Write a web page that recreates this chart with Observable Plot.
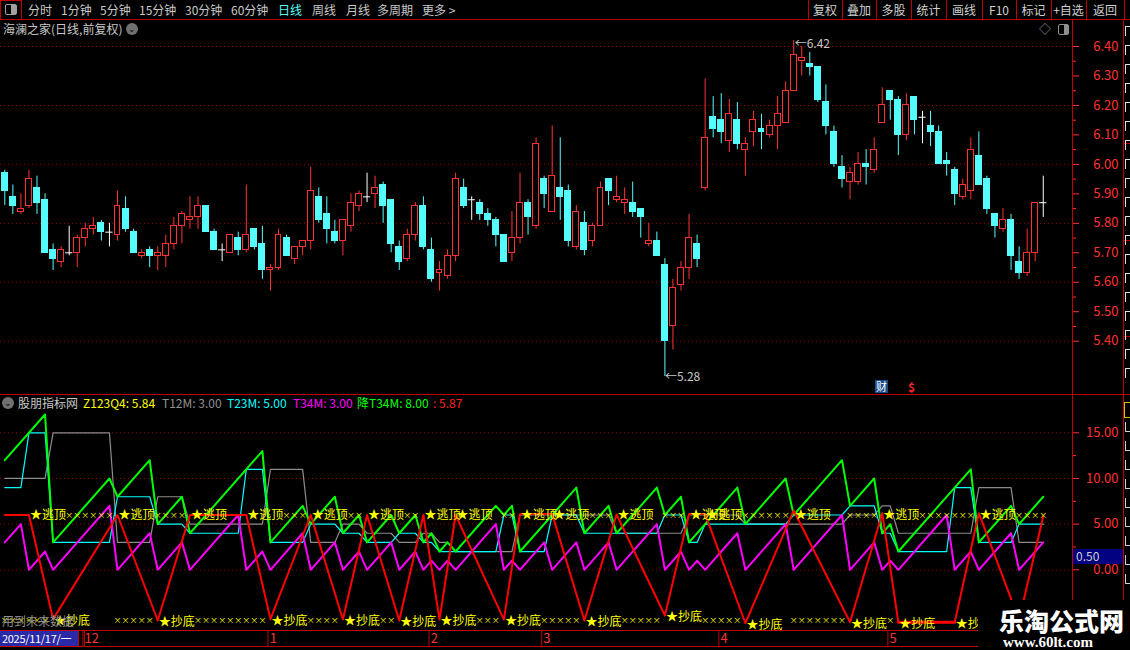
<!DOCTYPE html>
<html><head><meta charset="utf-8">
<script src="https://cdn.jsdelivr.net/npm/d3@7"></script>
<script src="https://cdn.jsdelivr.net/npm/@observablehq/plot@0.6"></script>
<style>
html,body{margin:0;padding:0;background:#000;}
#root{position:relative;width:1130px;height:650px;background:#000;overflow:hidden;font-family:"Noto Sans CJK SC","Noto Sans",sans-serif;color:#c8c8c8;}
.t{position:absolute;white-space:nowrap;font-size:12px;line-height:14px;}
.plot{position:absolute;left:0;}
</style></head><body><div id="root"></div>
<script>
// ---------- price data (daily candles, 2025/11/17 onward) ----------
const open  = [5.97,5.89,5.84,5.86,5.92,5.88,5.71,5.67,5.70,5.70,5.75,5.78,5.80,5.77,5.76,5.85,5.77,5.69,5.71,5.69,
               5.69,5.73,5.79,5.81,5.82,5.86,5.77,5.71,5.70,5.75,5.71,5.78,5.73,5.64,5.65,5.75,5.68,5.72,5.74,5.89,
               5.83,5.77,5.74,5.79,5.86,5.89,5.90,5.93,5.88,5.72,5.68,5.76,5.86,5.71,5.63,5.62,5.69,5.92,5.88,5.87,
               5.83,5.81,5.76,5.70,5.75,5.87,5.79,5.95,5.84,5.92,5.91,5.72,5.80,5.74,5.79,5.95,5.88,5.87,5.87,5.85,
               5.73,5.74,5.66,5.45,5.59,5.65,5.73,5.92,6.16,6.15,6.08,6.15,6.05,6.11,6.12,6.10,6.13,6.14,6.25,6.35,
               6.34,6.33,6.21,6.11,5.99,5.94,5.94,6.00,5.98,6.14,6.25,6.22,6.10,6.23,6.16,6.13,6.11,6.01,5.98,5.89,
               5.91,6.03,5.95,5.83,5.78,5.81,5.67,5.63,5.70,5.87];
const high  = [5.98,5.93,5.90,5.98,5.96,5.90,5.73,5.72,5.79,5.76,5.80,5.82,5.81,5.80,5.91,5.89,5.78,5.71,5.72,5.72,
               5.76,5.82,5.84,5.89,5.89,5.86,5.78,5.73,5.76,5.77,5.93,5.78,5.79,5.66,5.78,5.76,5.72,5.74,5.99,5.92,
               5.89,5.81,5.81,5.90,5.91,5.97,5.96,5.94,5.88,5.74,5.78,5.87,5.89,5.75,5.67,5.71,5.97,5.95,5.89,5.88,
               5.85,5.82,5.76,5.84,5.97,5.88,6.09,5.96,6.13,6.09,5.93,5.86,5.84,5.80,5.94,5.95,5.96,5.92,5.94,5.85,
               5.80,5.77,5.68,5.61,5.67,5.83,5.76,6.29,6.23,6.24,6.22,6.21,6.09,6.18,6.17,6.15,6.23,6.28,6.42,6.40,
               6.38,6.33,6.27,6.13,6.03,5.99,6.04,6.05,6.09,6.26,6.25,6.23,6.24,6.23,6.18,6.18,6.13,6.04,5.99,5.95,
               6.09,6.11,5.96,5.83,5.85,5.83,5.72,5.78,5.87,5.96];
const low   = [5.86,5.83,5.83,5.85,5.83,5.70,5.64,5.65,5.69,5.65,5.72,5.76,5.74,5.72,5.74,5.77,5.70,5.68,5.65,5.64,
               5.65,5.71,5.73,5.78,5.78,5.77,5.71,5.67,5.70,5.69,5.70,5.71,5.61,5.57,5.64,5.69,5.66,5.69,5.71,5.80,
               5.73,5.73,5.69,5.77,5.84,5.87,5.85,5.80,5.70,5.64,5.67,5.74,5.71,5.60,5.57,5.61,5.67,5.85,5.81,5.81,
               5.79,5.72,5.67,5.67,5.73,5.76,5.78,5.85,5.84,5.81,5.72,5.71,5.69,5.72,5.79,5.86,5.87,5.83,5.82,5.75,
               5.72,5.69,5.28,5.37,5.57,5.61,5.65,5.91,6.09,6.07,6.04,6.05,5.96,6.06,6.05,6.09,6.05,6.14,6.25,6.30,
               6.30,6.21,6.10,5.99,5.92,5.88,5.93,5.93,5.97,6.14,6.15,6.03,6.08,6.10,6.07,6.06,6.00,5.96,5.86,5.88,
               5.88,5.93,5.83,5.75,5.77,5.64,5.61,5.62,5.67,5.82];
const close = [5.91,5.86,5.85,5.95,5.87,5.70,5.68,5.71,5.70,5.75,5.78,5.79,5.77,5.77,5.86,5.78,5.70,5.70,5.69,5.70,
               5.73,5.79,5.83,5.82,5.86,5.77,5.71,5.71,5.76,5.71,5.76,5.72,5.64,5.65,5.76,5.69,5.72,5.74,5.91,5.81,
               5.78,5.74,5.81,5.87,5.90,5.89,5.92,5.86,5.73,5.67,5.76,5.86,5.72,5.61,5.64,5.69,5.95,5.86,5.88,5.83,
               5.81,5.76,5.67,5.75,5.87,5.82,6.07,5.90,5.96,5.89,5.74,5.84,5.71,5.79,5.92,5.91,5.89,5.88,5.84,5.82,
               5.74,5.69,5.40,5.58,5.65,5.75,5.68,6.09,6.12,6.11,6.17,6.07,6.07,6.15,6.11,6.13,6.17,6.25,6.37,6.36,
               6.33,6.22,6.13,6.00,5.95,5.97,6.00,5.99,6.05,6.20,6.22,6.10,6.20,6.15,6.16,6.11,6.00,6.00,5.90,5.93,
               6.05,5.93,5.85,5.79,5.81,5.69,5.63,5.70,5.87,5.87];
const priceTicks = [5.40,5.50,5.60,5.70,5.80,5.90,6.00,6.10,6.20,6.30,6.40];
const priceMinor = [5.45,5.55,5.65,5.75,5.85,5.95,6.05,6.15,6.25,6.35];
const priceGrid  = [5.40,5.60,5.80,6.00,6.20,6.40];
const monthLabels = ["12","1","2","3","4","5"];
const monthStart  = [10,33,53,67,89,110];

// ---------- indicator data (vertex points: bar index, value) ----------
const greenIdx = [0,5,6,13,14,18,19,22,23,32,33,37,38,41,42,44,45,48,49,51,52,53,54,55,56,61,62,63,64,71,72,75,76,81,82,84,85,91,92,97,98,104,105,108,109,110,111,120,121,125,126,129];
const greenVal = [12,17,3,10,8,12,5,8,4,13,3,7,5,8,4,6,3,6,4,6,3,4,2,3,2,7,6,7,2,9,4,7,4,9,6,8,3,9,5,10,6,12,7,10,4,5,2,11,3,7,5,8];
const cyanIdx  = [0,2,3,5,6,13,14,18,19,22,23,29,30,32,33,37,38,41,42,44,45,48,49,51,52,53,54,61,62,63,64,67,68,71,72,81,82,84,85,86,87,97,98,104,105,108,109,110,111,117,118,120,121,125,126,129];
const cyanVal  = [9,9,15,15,3,3,8,8,5,5,4,4,11,11,3,3,5,5,4,4,3,3,4,4,3,3,2,2,6,6,2,2,6,6,4,4,6,6,3,3,5,5,6,6,7,7,4,4,2,2,9,9,3,3,5,5];
const grayIdx  = [0,5,6,13,14,18,19,22,23,32,33,37,38,41,42,44,45,48,49,51,52,53,54,55,56,63,64,75,76,84,85,91,92,104,105,108,109,110,111,120,121,125,126,129];
const grayVal  = [10,10,15,15,3,3,8,8,5,5,11,11,3,3,5,5,4,4,3,3,4,4,3,3,2,2,6,6,4,4,6,6,5,5,6,6,7,7,4,4,9,9,3,3];
const magIdx   = [0,2,3,5,6,13,14,18,19,22,23,29,30,32,33,37,38,41,42,44,45,48,49,51,52,53,54,55,56,61,62,63,64,67,68,71,72,75,76,81,82,84,85,86,87,91,92,97,98,104,105,108,109,110,111,117,118,120,121,125,126,129];
const magVal   = [3,5,0,2,0,7,0,4,0,3,0,6,0,2,0,4,0,3,0,2,0,3,0,2,0,1,0,1,0,5,0,1,0,3,0,3,0,3,0,5,0,2,0,1,0,4,0,5,0,6,0,3,0,1,0,6,0,2,0,4,0,3];
const redIdx   = [0,3,6,14,19,23,30,33,38,42,45,49,52,54,56,62,64,68,72,76,82,85,87,92,98,105,109,111,118,121,126,129];
const redVal   = [6,6,-5.4,6,-5.55,6,6,-5.4,6,-5.45,6,-5.55,6,-5.45,6,-5.45,6.1,6.1,-5.55,6.05,-5.0,6.1,6.1,-5.85,6.5,-5.75,6.2,-5.75,-5.75,6.2,-5.5,5.87];
const topSignal = [3,14,23,30,38,45,52,56,64,68,76,85,87,98,109,121];
const botSignal = [6,19,33,42,49,54,62,72,82,92,105,111,118];
const botSignalVal = [-5.4,-5.55,-5.4,-5.45,-5.55,-5.45,-5.45,-5.55,-5.0,-5.85,-5.75,-5.75,-5.75];
const topCross = [8,9,10,11,12,13,19,20,21,22,35,36,37,43,44,50,51,62,63,73,74,75,82,83,84,92,93,94,95,96,97,105,106,107,108,114,115,116,117,118,119,120,126,127,128,129];
const botCross = [0,1,2,3,4,5,14,15,16,17,18,24,25,26,27,28,29,30,31,32,38,39,40,41,47,48,59,60,61,67,68,69,70,71,77,78,79,80,81,87,88,89,90,91,98,99,100,101,102,103,104,110];
const indTicks = [0,5,10,15];
const indMinor = [2.5,7.5,12.5];

// ---------- colours ----------
const RED="#ff3232", CYAN="#54fcfc", GRID="#a00000", YEL="#ffff00";
const FONT='"Noto Sans CJK SC","Noto Sans",sans-serif';

const root = document.getElementById("root");
function txt(s,x,y,opts={}){const d=document.createElement("div");d.className="t";d.textContent=s;d.style.left=x+"px";d.style.top=y+"px";Object.assign(d.style,opts);root.appendChild(d);return d;}
function box(x,y,w,h,opts={}){const d=document.createElement("div");Object.assign(d.style,{position:"absolute",left:x+"px",top:y+"px",width:w+"px",height:h+"px"},opts);root.appendChild(d);return d;}
function hl(x,y,w,c){box(x,y,w,1,{background:c||"#b00000"});}
function vl(x,y,h,c){box(x,y,1,h,{background:c||"#b00000"});}

const candles = open.map((o,i)=>({i,o,h:high[i],l:low[i],c:close[i]}));
const col = d=> d.c>d.o ? RED : d.c<d.o ? CYAN : "#ffffff";
const xScale = {type:"linear", domain:[0,129], range:[4.3, 4.3+8.05*129], axis:null};

// ---------- main price chart ----------
const mainPlot = Plot.plot({
  width:1130, height:374, marginLeft:0, marginRight:58, marginTop:0, marginBottom:0,
  style:{background:"transparent", fontFamily:FONT, overflow:"visible"},
  x:xScale,
  y:{domain:[5.4,6.4], range:[320.7,26], label:null},
  marks:[
    Plot.ruleY(priceGrid,{stroke:GRID, strokeDasharray:"1,3"}),
    Plot.ruleX(candles,{x:"i", y1:"l", y2:"h", stroke:col, strokeWidth:1}),
    Plot.rect(candles.filter(d=>d.c!==d.o),{x1:d=>d.i-0.37, x2:d=>d.i+0.37, y1:"o", y2:"c",
      fill:d=>d.c>d.o?"#000":CYAN, stroke:col, strokeWidth:1, shapeRendering:"crispEdges"}),
    Plot.ruleY(candles.filter(d=>d.c===d.o),{y:"c", x1:d=>d.i-0.45, x2:d=>d.i+0.45, stroke:"#fff"}),
    Plot.axisY(priceTicks,{anchor:"right", label:null, tickSize:6, tickPadding:40, textAnchor:"end", tickFormat:d=>d.toFixed(2),
      fill:RED, stroke:RED, fontSize:13, fontFamily:FONT}),
    Plot.axisY(priceMinor,{anchor:"right", label:null, tickSize:3, tickFormat:()=>"", stroke:RED}),
    Plot.text([candles[98]],{x:"i", y:"h", text:d=>"\u2190"+d.h.toFixed(2), textAnchor:"start", dx:1, dy:4, fill:"#c8c8c8", fontSize:12}),
    Plot.text([candles[82]],{x:"i", y:"l", text:d=>"\u2190"+d.l.toFixed(2), textAnchor:"start", dx:0, dy:1, fill:"#c8c8c8", fontSize:12})
  ]
});
mainPlot.classList.add("plot"); mainPlot.style.top="20px"; root.appendChild(mainPlot);

// ---------- indicator ----------
const pts = (ix,vs)=>ix.map((i,k)=>({i,v:vs[k]}));
const redPts = pts(redIdx,redVal);
const indPlot = Plot.plot({
  width:1130, height:235, marginLeft:0, marginRight:58, marginTop:0, marginBottom:0,
  style:{background:"transparent", fontFamily:FONT, overflow:"visible"},
  x:xScale,
  y:{domain:[0,15], range:[174.3,37.3], label:null},
  marks:[
    Plot.ruleY(indTicks,{stroke:GRID, strokeDasharray:"1,3"}),
    Plot.line(pts(grayIdx,grayVal),{x:"i", y:"v", stroke:"#8c8c8c", strokeWidth:1.2}),
    Plot.line(pts(cyanIdx,cyanVal),{x:"i", y:"v", stroke:"#00ffff", strokeWidth:1.2}),
    Plot.line(pts(magIdx,magVal),{x:"i", y:"v", stroke:"#ff00ff", strokeWidth:2}),
    Plot.line(pts(greenIdx,greenVal),{x:"i", y:"v", stroke:"#00ff00", strokeWidth:2}),
    Plot.line(redPts,{x:"i", y:"v", stroke:"#ff0000", strokeWidth:2}),
    Plot.line(redPts.filter(d=>d.i>=111&&d.i<=118),{x:"i", y:"v", stroke:"#ff0000", strokeWidth:3}),
    Plot.text(topCross,{x:d=>d, y:()=>5.9, text:()=>"×", fill:YEL, fontSize:8}),
    Plot.text(botCross,{x:d=>d, y:()=>-5.5, text:()=>"×", fill:YEL, fontSize:8}),
    Plot.text(topSignal,{x:d=>d, y:()=>5.95, dx:1, text:()=>"★逃顶", fill:YEL, fontSize:12, textAnchor:"start"}),
    Plot.text(botSignal.map((i,k)=>({i,v:botSignalVal[k]})),{x:"i", y:"v", dx:1, dy:2, text:()=>"★抄底", fill:YEL, fontSize:12, textAnchor:"start"}),
    Plot.axisY(indTicks,{anchor:"right", label:null, tickSize:6, tickPadding:40, textAnchor:"end", tickFormat:d=>d.toFixed(2),
      fill:RED, stroke:RED, fontSize:13, fontFamily:FONT}),
    Plot.axisY(indMinor,{anchor:"right", label:null, tickSize:3, tickFormat:()=>"", stroke:RED})
  ]
});
indPlot.classList.add("plot"); indPlot.style.top="395px"; root.appendChild(indPlot);

// ---------- date strip ----------
const datePlot = Plot.plot({
  width:1130, height:16, marginLeft:0, marginRight:58, marginTop:0, marginBottom:0,
  style:{background:"transparent", fontFamily:FONT, overflow:"visible"},
  x:xScale, y:{domain:[0,1], range:[16,0], label:null},
  marks:[
    Plot.ruleX(monthStart,{x:d=>d-0.3, y1:0, y2:1, stroke:"#c00000"}),
    Plot.text(monthStart.map((m,k)=>({m,l:monthLabels[k]})),{x:d=>d.m-0.1, y:0.5, text:"l", textAnchor:"start", fill:RED, fontSize:13})
  ]
});
datePlot.classList.add("plot"); datePlot.style.top="630px"; root.appendChild(datePlot);

// ---------- chrome ----------
hl(0,19,1130,"#c00000");
vl(21,0,19,"#c00000"); vl(0,0,19,"#c00000"); hl(0,0,21,"#c00000");
box(5,4,10,9,{border:"1px solid #a0a0a0",borderRadius:"2px",background:"linear-gradient(90deg,#000 50%,#a0a0a0 50%)"});
const tb=[["分时",28],["1分钟",61],["5分钟",100],["15分钟",139],["30分钟",185],["60分钟",231],["日线",278],["周线",312],["月线",346],["多周期",377],["更多 >",422]];
tb.forEach(([s,x])=>txt(s,x,3,{color:s==="日线"?CYAN:"#c8c8c8"}));
const btn=[["复权",808],["叠加",842],["多股",876],["统计",911],["画线",946],["F10",982],["标记",1016],["+自选",1051],["返回",1086]];
const btnEnd=1124;
btn.forEach(([s,x],k)=>{const x2=k<btn.length-1?btn[k+1][1]:btnEnd;vl(x,0,19,"#c00000");
  txt(s,x,3,{width:(x2-x)+"px",textAlign:"center",color:"#d0d0d0"});});
vl(btnEnd,0,19,"#c00000");
txt("海澜之家(日线,前复权)",3,22,{color:"#c8c8c8"});
const cir=box(126,23,12,12,{borderRadius:"6px",background:"#707070",color:"#000",fontSize:"9px",lineHeight:"12px",textAlign:"center"});cir.textContent="⌄";
txt("◇",1039,22,{color:"#909090"});
box(1058,24,9,9,{border:"1px solid #909090",borderRadius:"2px",background:"linear-gradient(90deg,#000 55%,#909090 55%)"});
// frame lines
vl(1072,20,580,"#c00000");
vl(1123,20,580,"#c00000");
hl(0,394,1130,"#c00000");
hl(0,630,978,"#c00000");
hl(0,646,978,"#c00000");
hl(1123,143,7,"#c00000"); hl(1123,240,7,"#c00000"); hl(1123,336,7,"#c00000");
// side strip fragments (cut-off panel on the far right)
for(let k=0;k<19;k++){ box(1125,26+k*19,4,9,{borderLeft:"1px solid #e0e0e0",borderTop:"1px solid #e0e0e0"}); }
box(1124,402,5,14,{border:"1px solid #d8c000"});
for(let k=0;k<9;k++){ box(1125,422+k*19,4,9,{borderLeft:"1px solid #d0d0d0",borderBottom:"1px solid #d0d0d0"}); }
// indicator title
const cir2=box(2,397,12,12,{borderRadius:"6px",background:"#707070",color:"#000",fontSize:"9px",lineHeight:"12px",textAlign:"center"});cir2.textContent="⌄";
txt("股朋指标网",18,396,{color:"#c8c8c8"});
txt("Z123Q4: 5.84",83,396,{color:YEL});
txt("T12M: 3.00",162,396,{color:"#909090"});
txt("T23M: 5.00",227,396,{color:"#00ffff"});
txt("T34M: 3.00",293,396,{color:"#ff00ff"});
txt("降T34M: 8.00",357,396,{color:"#00ff00"});
txt(": 5.87",433,396,{color:"#ff2020"});
txt("用到未来数据",2,614,{color:"#909090"});
txt("财",875,380,{fontSize:"11px",color:"#fff",background:"#1a4a8c",lineHeight:"13px",padding:"0 1px"});
txt("$",908,380,{color:"#ff2020",fontWeight:"bold"});
txt("0.50",1073,549,{width:"47px",height:"15px",background:"#000080",color:"#d0d0d0",paddingLeft:"3px"});
box(0,631,78,15,{background:"#2a2aa8"});
txt("2025/11/17/一",2,632,{color:"#fff",fontSize:"11px",lineHeight:"13px",letterSpacing:"-0.3px"});
vl(78,630,16,"#c00000"); vl(84,630,16,"#c00000");
// watermark
box(978,600,152,50,{background:"#000"});
txt("乐淘公式网",999,605,{fontSize:"25px",lineHeight:"30px",fontWeight:"900",color:"#fff"});
txt("www.60lt.com",1003,634,{fontSize:"15px",lineHeight:"16px",fontWeight:"bold",color:"#fff",fontFamily:'"Liberation Serif",serif'});
</script></body></html>
